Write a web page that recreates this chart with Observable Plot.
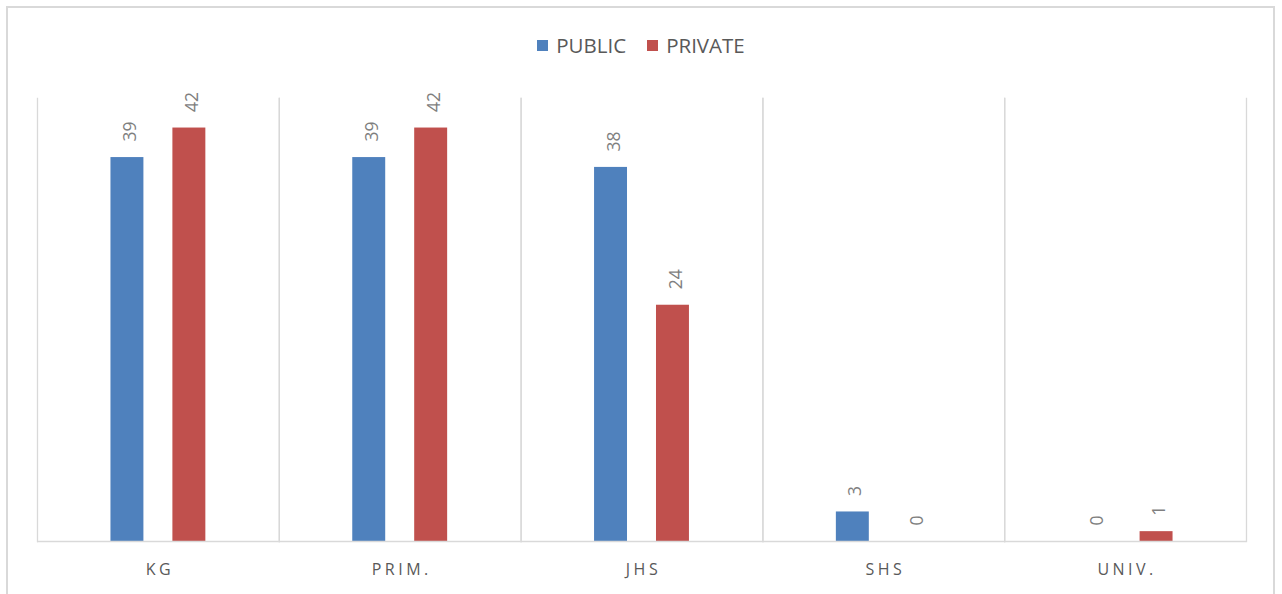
<!DOCTYPE html>
<html>
<head>
<meta charset="utf-8">
<script src="https://cdn.jsdelivr.net/npm/d3@7"></script>
<script src="https://cdn.jsdelivr.net/npm/@observablehq/plot@0.6"></script>
<style>
  html, body { margin: 0; padding: 0; background: #fff; }
  #wrap { position: relative; width: 1282px; height: 594px; overflow: hidden; font-family: "Open Sans", sans-serif; }
  #border { position: absolute; left: 6px; top: 6px; width: 1269px; height: 620px; border: 2px solid #d9d9d9; box-sizing: border-box; }
  #legend { position: relative; height: 80px; display: flex; justify-content: center; align-items: flex-start; padding-top: 32px; box-sizing: border-box; font-size: 20.5px; color: #595959; gap: 21px; }
  #legend .item { display: flex; align-items: center; gap: 8px; line-height: 26px; }
  #legend .sw { width: 11px; height: 11px; display: inline-block; }
  #chart { position: relative; }
  #chart [aria-label="fx-axis tick label"] text { letter-spacing: 3.5px; }
</style>
</head>
<body>
<div id="wrap">
  <div id="border"></div>
  <div id="legend"></div>
  <div id="chart"></div>
</div>
<script>
const categories = ["KG", "PRIM.", "JHS", "SHS", "UNIV."];
const series = ["PUBLIC", "PRIVATE"];
const publicValues = [39, 39, 38, 3, 0];
const privateValues = [42, 42, 24, 0, 1];
const colors = ["#4f81bd", "#c0504d"];

const data = [];
categories.forEach((c, i) => {
  data.push({category: c, series: series[0], value: publicValues[i]});
  data.push({category: c, series: series[1], value: privateValues[i]});
});

const legend = document.getElementById("legend");
series.forEach((s, i) => {
  const it = document.createElement("div");
  it.className = "item";
  it.innerHTML = `<span class="sw" style="background:${colors[i]}"></span><span>${s}</span>`;
  legend.appendChild(it);
});

const chart = Plot.plot({
  width: 1282,
  height: 514,
  marginTop: 18,
  marginBottom: 53,
  marginLeft: 37,
  marginRight: 36,
  style: {fontFamily: "Open Sans, sans-serif", background: "transparent", overflow: "visible"},
  fx: {domain: categories, paddingInner: 0, paddingOuter: 0, round: false, label: null},
  x: {domain: series, paddingInner: 0.468, paddingOuter: 1.186, round: false, axis: null},
  y: {domain: [0, 45], axis: null},
  color: {domain: series, range: colors},
  marks: [
    Plot.frame({anchor: "left", stroke: "#d9d9d9", strokeWidth: 1.3}),
    Plot.frame({anchor: "right", stroke: "#d9d9d9", strokeWidth: 1.3}),
    Plot.barY(data, {fx: "category", x: "series", y: "value", fill: "series"}),
    Plot.ruleY([0], {stroke: "#d9d9d9", strokeWidth: 1.5}),
    Plot.text(data, {fx: "category", x: "series", y: "value", text: d => String(d.value),
      rotate: -90, textAnchor: "start", lineAnchor: "middle", dy: -16, dx: 3,
      fontSize: 17.5, fill: "#7f7f7f"}),
    Plot.axisFx({anchor: "bottom", tickSize: 0, tickPadding: 22, fontSize: 16, fill: "#595959", label: null, dx: 1.5})
  ]
});
document.getElementById("chart").appendChild(chart);
</script>
</body>
</html>
